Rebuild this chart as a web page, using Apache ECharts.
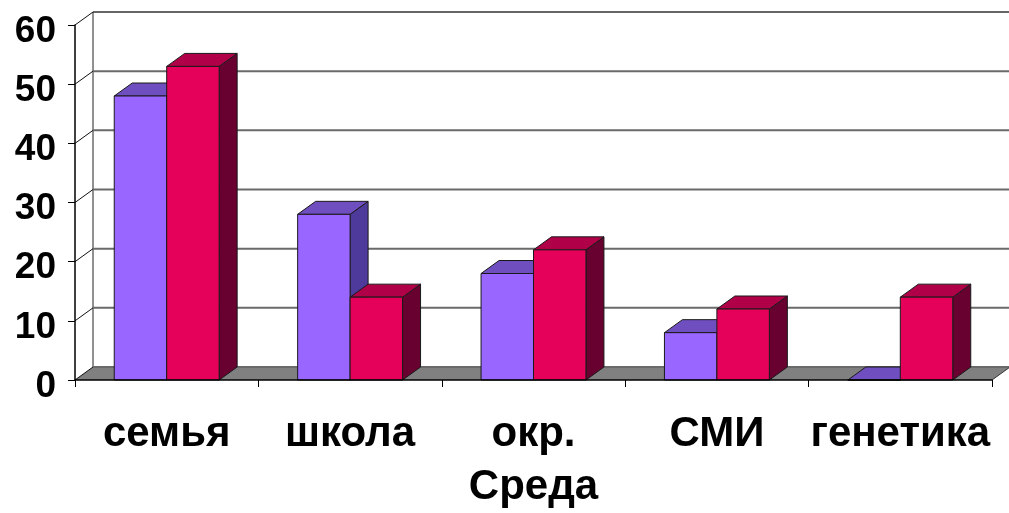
<!DOCTYPE html>
<html>
<head>
<meta charset="utf-8">
<script src="https://cdn.jsdelivr.net/npm/echarts@6/dist/echarts.min.js"></script>
<style>
html,body{margin:0;padding:0;background:#fff;}
#chart{width:1009px;height:513px;}
</style>
</head>
<body>
<div id="chart"></div>
<script>
const categories = ['семья', 'школа', 'окр.', 'СМИ', 'генетика'];
const seriesA = [48, 28, 18, 8, 0];
const seriesB = [53, 14, 22, 12, 14];
const yTicks = [0, 10, 20, 30, 40, 50, 60];
const axisName = 'Среда';

const DX = 18, DY = -13;
const FONT = "'Liberation Sans', Arial, sans-serif";
const styles = [
  {front: '#9966FF', top: '#6F4FBF', side: '#4E3A9A'},
  {front: '#E5005A', top: '#B00048', side: '#680030'}
];
const EDGE = '#1a1a1a';

function barRenderer(k) {
  return function (params, api) {
    const i = api.value(0), v = api.value(1);
    const bw = api.size([1, 0])[0];
    const c = api.coord([i, v]);
    const b = api.coord([i, 0]);
    const w = bw * 0.286;
    const x0 = k === 0 ? c[0] - w : c[0];
    const s = styles[k];
    const ls = {stroke: EDGE, lineWidth: 1};
    return {
      type: 'group',
      children: [
        {type: 'polygon', shape: {points: [[x0 + w, c[1]], [x0 + w + DX, c[1] + DY], [x0 + w + DX, b[1] + DY], [x0 + w, b[1]]]},
          style: Object.assign({fill: s.side}, ls)},
        {type: 'polygon', shape: {points: [[x0, c[1]], [x0 + w, c[1]], [x0 + w + DX, c[1] + DY], [x0 + DX, c[1] + DY]]},
          style: Object.assign({fill: s.top}, ls)},
        {type: 'rect', shape: {x: x0, y: c[1], width: w, height: b[1] - c[1]},
          style: Object.assign({fill: s.front}, ls)}
      ]
    };
  };
}

function wallRenderer(params, api) {
  const v = api.value(1);
  const n = categories.length;
  const bw = api.size([1, 0])[0];
  const p = api.coord([0, v]);
  const q = api.coord([n - 1, v]);
  const left = p[0] - bw / 2, right = q[0] + bw / 2, y = p[1];
  const children = [];
  const top = v === yTicks[yTicks.length - 1];
  if (v === 0) {
    children.push({type: 'polygon', z2: 0, shape: {points: [[left, y], [right, y], [right + DX, y + DY], [left + DX, y + DY]]},
      style: {fill: '#808080', stroke: null}});
    children.push({type: 'line', z2: 2, shape: {x1: right, y1: y, x2: right + DX, y2: y + DY},
      style: {stroke: '#333', lineWidth: 1}});
    const t = api.coord([0, yTicks[yTicks.length - 1]]);
    children.push({type: 'line', z2: 1, shape: {x1: left + DX, y1: y + DY, x2: left + DX, y2: t[1] + DY},
      style: {stroke: '#222', lineWidth: 1}});
  }
  children.push({type: 'line', z2: 1, shape: {x1: left + DX, y1: y + DY, x2: right + DX, y2: y + DY},
    style: {stroke: top ? '#333' : '#6a6a6a', lineWidth: top ? 1.5 : 2}});
  children.push({type: 'line', z2: 2, shape: {x1: left, y1: y, x2: left + DX, y2: y + DY},
    style: {stroke: '#111', lineWidth: 1}});
  return {type: 'group', children: children};
}

const chart = echarts.init(document.getElementById('chart'), null, {renderer: 'canvas'});
chart.setOption({
  backgroundColor: '#ffffff',
  animation: false,
  grid: {left: 75, right: 17, top: 25, bottom: 125, containLabel: false},
  xAxis: {
    type: 'category',
    data: categories,
    z: 10,
    name: axisName,
    nameLocation: 'middle',
    nameGap: 86,
    nameTextStyle: {fontFamily: FONT, fontWeight: 'bold', fontSize: 42, color: '#000'},
    axisLine: {show: true, lineStyle: {color: '#000', width: 1.5}},
    axisTick: {show: true, length: 7, lineStyle: {color: '#000'}},
    axisLabel: {interval: 0, fontFamily: FONT, fontWeight: 'bold', fontSize: 42, color: '#000', margin: 33},
    splitLine: {show: false}
  },
  yAxis: {
    type: 'value',
    min: 0, max: 60, interval: 10,
    z: 10,
    axisLine: {show: true, lineStyle: {color: '#000', width: 1.5}},
    axisTick: {show: true, length: 7, lineStyle: {color: '#000'}},
    axisLabel: {fontFamily: FONT, fontWeight: 'bold', fontSize: 37, color: '#000', margin: 19,
      verticalAlign: 'top', lineHeight: 13},
    splitLine: {show: false}
  },
  series: [
    {type: 'custom', z: 1, silent: true, renderItem: wallRenderer,
      data: yTicks.map(function (t) { return [0, t]; }), encode: {x: 0, y: 1}},
    {type: 'custom', z: 3, renderItem: barRenderer(0),
      data: seriesA.map(function (v, i) { return [i, v]; }), encode: {x: 0, y: 1}},
    {type: 'custom', z: 4, renderItem: barRenderer(1),
      data: seriesB.map(function (v, i) { return [i, v]; }), encode: {x: 0, y: 1}}
  ]
});
</script>
</body>
</html>
